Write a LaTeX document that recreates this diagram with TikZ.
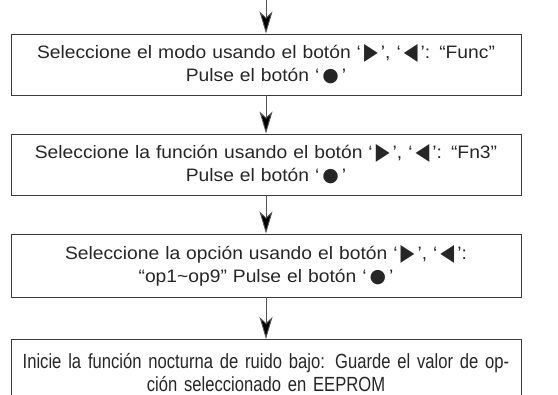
\documentclass[tikz,border=0pt]{standalone}
\usepackage{fontspec}
\setmainfont{Liberation Sans}
\newfontfamily\wfont[FakeStretch=1.07]{Liberation Sans}
\newfontfamily\nfont[FakeStretch=0.81]{Liberation Sans}
\newfontfamily\symf{DejaVu Sans}
\usetikzlibrary{arrows.meta}
\definecolor{txt}{HTML}{262626}
\definecolor{boxc}{HTML}{3A3A3A}
\definecolor{arrc}{HTML}{555555}
\newcommand{\rtri}{\,{\symf\raisebox{-0.05em}{\scalebox{1.0}[1.3]{▶}}}\,}
\newcommand{\ltri}{\,{\symf\raisebox{-0.05em}{\scalebox{1.0}[1.3]{◀}}}\,}
\newcommand{\bdot}{{\symf\scalebox{1.05}{●}}}
\begin{document}
\begin{tikzpicture}[x=1pt,y=-1pt,
  stepbox/.style={draw=boxc, line width=0.9pt, minimum width=510pt, minimum height=61pt,
    text width=505pt, align=center, inner sep=0pt, font=\wfont\fontsize{18}{23}\selectfont, text=txt},
  lastbox/.style={stepbox, minimum height=66pt, font=\nfont\fontsize{20.5}{23}\selectfont},
  flow/.style={draw=arrc, line width=0.9pt, -{Stealth[length=22pt,width=13pt,inset=6pt,fill=black]}}]
\useasboundingbox (0,0) rectangle (558,395);
\clip (0,0) rectangle (558,395);
\coordinate (start) at (266,0);
\node[stepbox] (b1) at (266,64.5) {Seleccione el modo usando el botón ‘\rtri’, ‘\ltri’: “Func”\\Pulse el botón ‘\,\bdot\,’};
\node[stepbox] (b2) at (266,164.5) {Seleccione la función usando el botón ‘\rtri’, ‘\ltri’: “Fn3”\\Pulse el botón ‘\,\bdot\,’};
\node[stepbox, minimum height=63pt] (b3) at (266,265.5) {Seleccione la opción usando el botón ‘\rtri’, ‘\ltri’:\\“op1\textasciitilde op9” Pulse el botón ‘\,\bdot\,’};
\node[lastbox, anchor=north] (b4) at (266,339) {Inicie la función nocturna de ruido bajo: Guarde el valor de op-\\ción seleccionado en EEPROM};
\draw[flow] (start) -- (b1.north);
\draw[flow] (b1.south) -- (b2.north);
\draw[flow] (b2.south) -- (b3.north);
\draw[flow] (b3.south) -- (b4.north);
\end{tikzpicture}
\end{document}
